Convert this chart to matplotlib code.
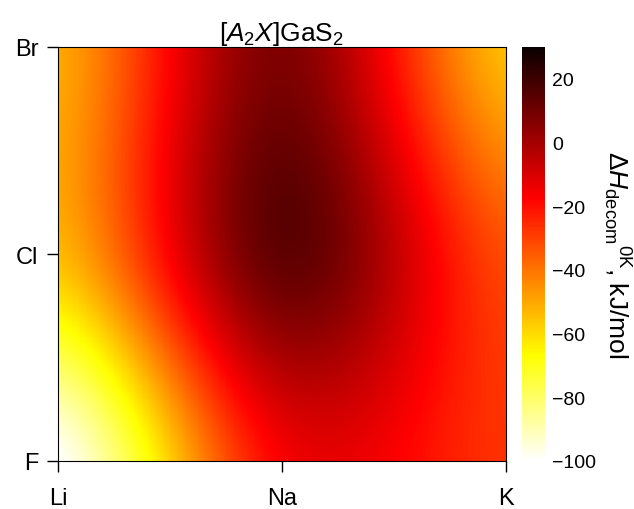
import numpy as np
import matplotlib
matplotlib.use("Agg")
import matplotlib.pyplot as plt

plt.rcParams['font.family'] = ['Liberation Sans', 'DejaVu Sans']
plt.rcParams['mathtext.fontset'] = 'custom'
plt.rcParams['mathtext.rm'] = 'Liberation Sans'
plt.rcParams['mathtext.it'] = 'Liberation Sans:italic'
plt.rcParams['mathtext.bf'] = 'Liberation Sans:bold'

cations = ["Li", "Na", "K"]
halides = ["F", "Cl", "Br"]
# Decomposition enthalpy (kJ/mol); rows: F, Cl, Br ; cols: Li, Na, K
dH_F = [-100, -17, -27]
dH_Cl = [-54, 13, -32]
dH_Br = [-50, 7, -54]
cbar_ticks = [-100, -80, -60, -40, -20, 0, 20]

data = np.array([dH_F, dH_Cl, dH_Br], dtype=float)

fig = plt.figure(figsize=(6.34, 5.10), dpi=100)
ax = fig.add_axes([58/634, 48/510, 448/634, 414/510])
cax = fig.add_axes([522/634, 48/510, 23/634, 414/510])

im = ax.imshow(data, cmap='hot_r', vmin=-100, vmax=30, origin='lower',
               interpolation='catrom', extent=[-0.5, 2.5, -0.5, 2.5], aspect='auto')
ax.set_xlim(0, 2)
ax.set_ylim(0, 2)
ax.set_xticks(range(3))
ax.set_xticklabels(cations)
ax.set_yticks(range(3))
ax.set_yticklabels(halides)
ax.tick_params(direction='out', length=8, width=1, labelsize=17)
ax.tick_params(axis='x', pad=11)
ax.tick_params(axis='y', pad=6)
for s in ax.spines.values():
    s.set_linewidth(0.8)

ax.set_title(r"[$\mathit{A}_2\mathit{X}$]GaS$_2$", fontsize=19, pad=4)

cb = fig.colorbar(im, cax=cax, ticks=cbar_ticks)
cb.outline.set_visible(False)
cax.tick_params(length=0, labelsize=14, pad=5)
cb.set_label(r"$\Delta\mathit{H}_{\mathrm{decom}}{}^{\mathrm{0K}}$, kJ/mol", fontsize=19,
             rotation=270, labelpad=26)

fig.savefig("out.png", dpi=100)
